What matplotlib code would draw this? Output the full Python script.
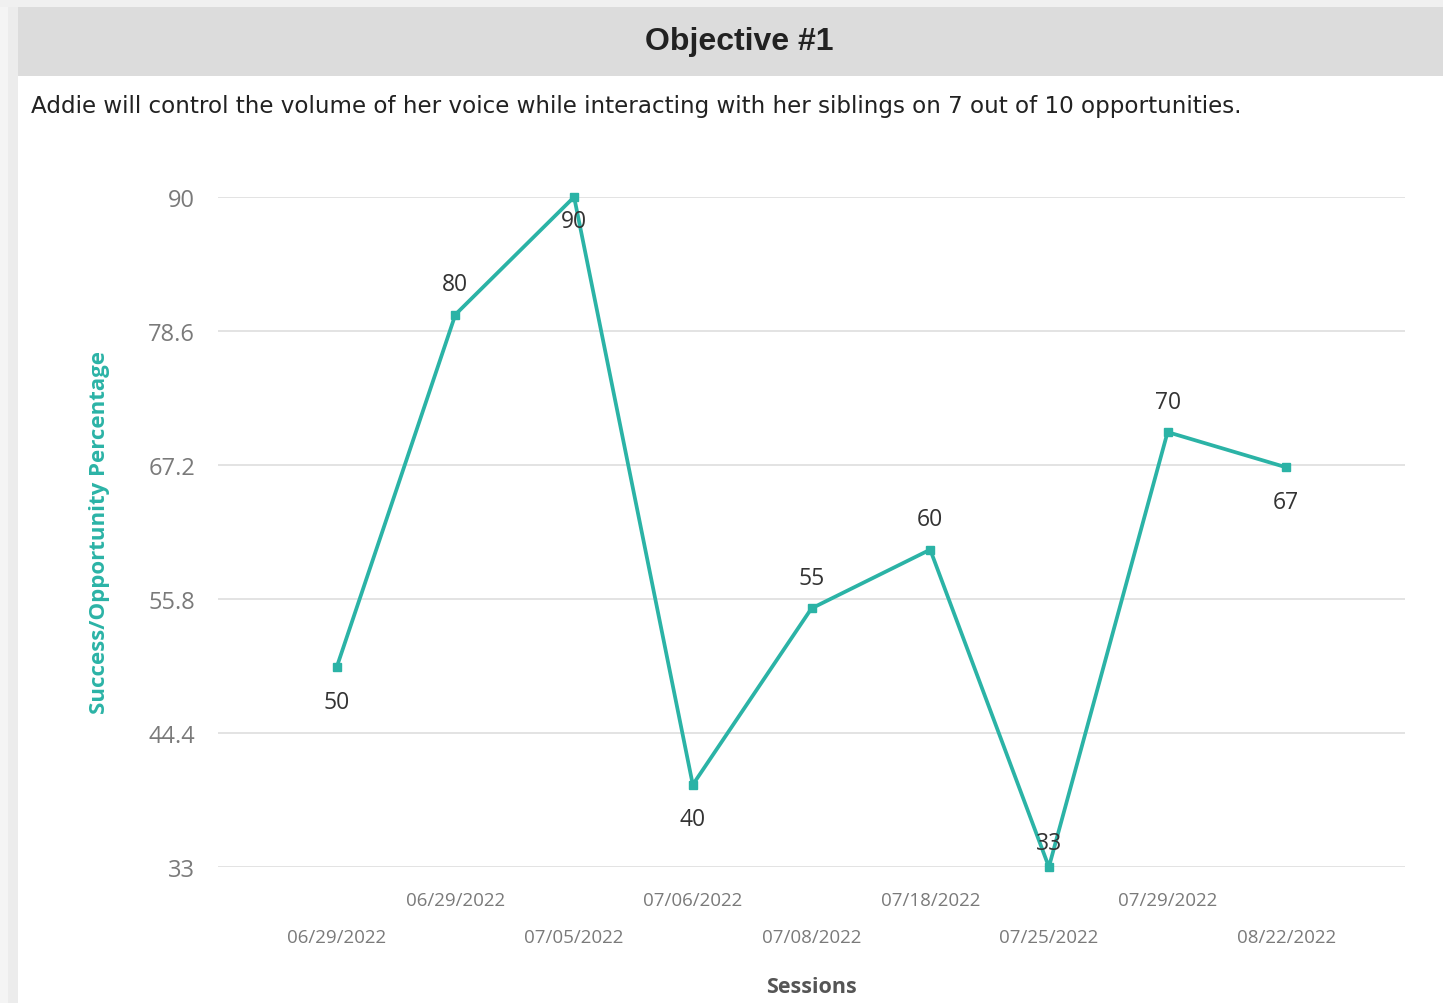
import matplotlib
matplotlib.use("Agg")
import matplotlib.pyplot as plt
from matplotlib.patches import Rectangle

# ---- data ----
sessions = ["06/29/2022", "06/29/2022", "07/05/2022", "07/06/2022", "07/08/2022",
            "07/18/2022", "07/25/2022", "07/29/2022", "08/22/2022"]
values = [50, 80, 90, 40, 55, 60, 33, 70, 67]
label_below = [True, False, True, True, False, False, False, False, True]
y_ticks = [33, 44.4, 55.8, 67.2, 78.6, 90]
y_tick_labels = ["33", "44.4", "55.8", "67.2", "78.6", "90"]
title = "Objective #1"
subtitle = "Addie will control the volume of her voice while interacting with her siblings on 7 out of 10 opportunities."
x_label = "Sessions"
y_label = "Success/Opportunity Percentage"

TEAL = "#2bb3a6"
W, H = 1443, 1004
fig = plt.figure(figsize=(W / 100, H / 100), dpi=100)
fig.patch.set_facecolor("white")

def fx(px):
    return px / W

def fy(py):
    return 1 - py / H

# background frame (light grey outside card)
fig.patches.append(Rectangle((0, 0), fx(18), 1, transform=fig.transFigure,
                             facecolor="#f4f4f4", edgecolor="none", zorder=0))
fig.patches.append(Rectangle((fx(8), 0), fx(10), 1, transform=fig.transFigure,
                             facecolor="#ececec", edgecolor="none", zorder=0))
fig.patches.append(Rectangle((0, fy(8)), 1, 8 / H, transform=fig.transFigure,
                             facecolor="#f0f0f0", edgecolor="none", zorder=0))
# title band
fig.patches.append(Rectangle((fx(18), fy(77)), 1 - fx(18), (77 - 8) / H,
                             transform=fig.transFigure, facecolor="#dcdcdc",
                             edgecolor="none", zorder=1))

fig.text(fx(739), fy(42), title, ha="center", va="center",
         fontsize=23, fontweight="bold", family=["Liberation Sans", "DejaVu Sans"],
         color="#222222")
fig.text(fx(31), fy(107), subtitle, ha="left", va="center",
         fontsize=16.6, family=["DejaVu Sans"], color="#222222")

ax = fig.add_axes([fx(218), fy(868), fx(1405) - fx(218), (868 - 198) / H])
x = list(range(len(values)))
ax.plot(x, values, color=TEAL, linewidth=2.7, marker="s", markersize=5.5,
        clip_on=False, zorder=3)
ax.set_xlim(-1, len(values))
ax.set_ylim(33, 90)
ax.set_yticks(y_ticks)
ax.set_yticklabels(y_tick_labels)
ax.yaxis.grid(True, color="#e3e3e3", linewidth=1.4)
ax.set_axisbelow(True)
for s in ax.spines.values():
    s.set_visible(False)
ax.tick_params(axis="y", length=0, pad=16.5, labelsize=17, labelcolor="#7a7a7a")
ax.tick_params(axis="x", length=0, labelsize=13.5, labelcolor="#7a7a7a")
for lab in ax.get_yticklabels():
    lab.set_family(["Open Sans", "DejaVu Sans"])

ax.set_xticks(x)
ax.set_xticklabels(sessions, family=["Open Sans", "DejaVu Sans"])
for i, t in enumerate(ax.xaxis.get_major_ticks()):
    t.set_pad(44 if i % 2 == 0 else 17)

for i, v in enumerate(values):
    off = -25 if label_below[i] else 22
    if i == 2:
        off = -17
    if i == 6:
        off = 17
    ax.annotate(str(v), (i, v), xytext=(0, off), textcoords="offset points",
                ha="center", va="center", fontsize=16.5, color="#333333",
                family=["Open Sans", "DejaVu Sans"], zorder=4)

fig.text(fx(811), fy(988), x_label, ha="center", va="center", fontsize=15.5,
         fontweight="bold", color="#555555", family=["Open Sans", "DejaVu Sans"])
fig.text(fx(100), fy(533), y_label, ha="center", va="center", rotation=90,
         fontsize=16, fontweight="bold", color=TEAL, family=["Open Sans", "DejaVu Sans"])

fig.savefig("out.png", dpi=100)
